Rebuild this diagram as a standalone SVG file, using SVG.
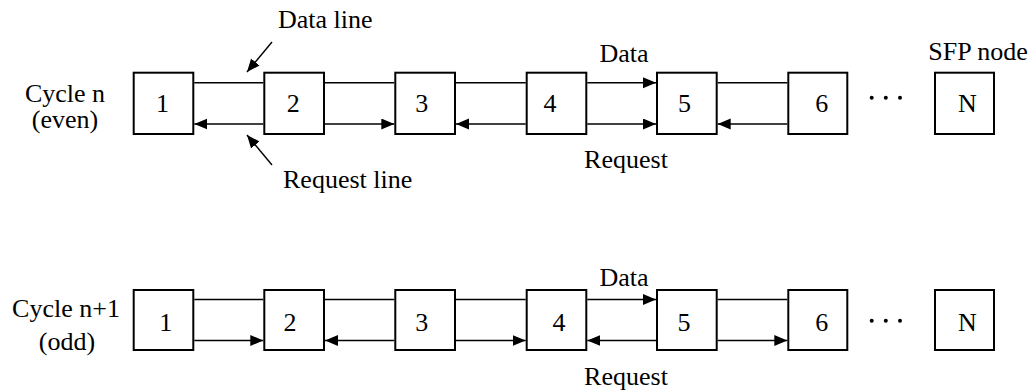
<svg xmlns="http://www.w3.org/2000/svg" width="1036" height="392" viewBox="0 0 1036 392">
<style>
  text { font-family: "Liberation Serif", "Times New Roman", serif; font-size: 26px; fill: #000; }
  .mid { text-anchor: middle; }
  .box { fill: #fff; stroke: #000; stroke-width: 2; }
  .ln { stroke: #000; stroke-width: 1.4; fill: none; }
  .ar { stroke: #000; stroke-width: 1.4; fill: none; marker-end: url(#ah); }
</style>
<defs>
  <marker id="ah" markerUnits="userSpaceOnUse" markerWidth="14" markerHeight="12" refX="13" refY="5.5" orient="auto">
    <path d="M0,0 L13,5.5 L0,11 z" fill="#000"/>
  </marker>
</defs>
<rect width="1036" height="392" fill="#fff"/>

<g id="labels">
  <text class="mid"><tspan x="65" y="101.5">Cycle n</tspan><tspan x="65" dy="26">(even)</tspan></text>
  <text class="mid"><tspan x="66" y="316.5">Cycle n+1</tspan><tspan x="67" dy="33">(odd)</tspan></text>
  <text x="278" y="28">Data line</text>
  <text x="283" y="188">Request line</text>
  <text class="mid" x="624" y="62">Data</text>
  <text class="mid" x="626" y="168">Request</text>
  <text class="mid" x="624" y="286">Data</text>
  <text class="mid" x="626" y="385">Request</text>
  <text class="mid" x="978" y="60">SFP node</text>
</g>

<g id="connectors">
  <line class="ar" x1="272" y1="42" x2="247" y2="72"/>
  <line class="ar" x1="272" y1="165" x2="247" y2="135"/>
  <!-- top row -->
  <line class="ln" x1="194.3" y1="82.7" x2="263.3" y2="82.7"/>
  <line class="ar" x1="263.3" y1="124" x2="194.3" y2="124"/>
  <line class="ln" x1="325" y1="82.7" x2="394.3" y2="82.7"/>
  <line class="ar" x1="325" y1="124" x2="394.3" y2="124"/>
  <line class="ln" x1="456" y1="82.7" x2="525.7" y2="82.7"/>
  <line class="ar" x1="525.7" y1="124" x2="456" y2="124"/>
  <line class="ar" x1="587.3" y1="82.7" x2="656" y2="82.7"/>
  <line class="ar" x1="587.3" y1="124" x2="656" y2="124"/>
  <line class="ln" x1="717.7" y1="82.7" x2="787.3" y2="82.7"/>
  <line class="ar" x1="787.3" y1="124" x2="717.7" y2="124"/>
  <!-- bottom row -->
  <line class="ln" x1="194.3" y1="299.5" x2="263.3" y2="299.5"/>
  <line class="ar" x1="194.3" y1="340.5" x2="263.3" y2="340.5"/>
  <line class="ln" x1="325" y1="299.5" x2="394.3" y2="299.5"/>
  <line class="ar" x1="394.3" y1="340.5" x2="325" y2="340.5"/>
  <line class="ln" x1="456" y1="299.5" x2="525.7" y2="299.5"/>
  <line class="ar" x1="456" y1="340.5" x2="525.7" y2="340.5"/>
  <line class="ar" x1="587.3" y1="299.5" x2="656" y2="299.5"/>
  <line class="ar" x1="656" y1="340.5" x2="587.3" y2="340.5"/>
  <line class="ln" x1="717.7" y1="299.5" x2="787.3" y2="299.5"/>
  <line class="ar" x1="717.7" y1="340.5" x2="787.3" y2="340.5"/>
</g>

<g id="ellipsis-top">
  <circle cx="871.7" cy="97.7" r="2"/>
  <circle cx="885.8" cy="97.7" r="2"/>
  <circle cx="900" cy="97.7" r="2"/>
</g>
<g id="ellipsis-bottom">
  <circle cx="871.7" cy="320.7" r="2"/>
  <circle cx="885.8" cy="320.7" r="2"/>
  <circle cx="900" cy="320.7" r="2"/>
</g>

<!-- top row nodes -->
<g id="t1"><rect class="box" x="133.7" y="72.7" width="59.6" height="61.3"/><text class="mid" x="162.5" y="112">1</text></g>
<g id="t2"><rect class="box" x="264.3" y="72.7" width="59.7" height="61.3"/><text class="mid" x="293.3" y="112">2</text></g>
<g id="t3"><rect class="box" x="395.3" y="72.7" width="59.7" height="61.3"/><text class="mid" x="421.7" y="112">3</text></g>
<g id="t4"><rect class="box" x="526.7" y="72.7" width="59.6" height="61.3"/><text class="mid" x="550" y="112">4</text></g>
<g id="t5"><rect class="box" x="657" y="72.7" width="59.7" height="61.3"/><text class="mid" x="684.5" y="112">5</text></g>
<g id="t6"><rect class="box" x="788.3" y="72.7" width="59" height="61.3"/><text class="mid" x="821.7" y="112">6</text></g>
<g id="tN"><rect class="box" x="935" y="72.7" width="59" height="61.3"/><text class="mid" x="967.5" y="112">N</text></g>

<!-- bottom row nodes -->
<g id="b1"><rect class="box" x="133.7" y="290" width="59.6" height="60"/><text class="mid" x="165.8" y="331">1</text></g>
<g id="b2"><rect class="box" x="264.3" y="290" width="59.7" height="60"/><text class="mid" x="290" y="331">2</text></g>
<g id="b3"><rect class="box" x="395.3" y="290" width="59.7" height="60"/><text class="mid" x="421.7" y="331">3</text></g>
<g id="b4"><rect class="box" x="526.7" y="290" width="59.6" height="60"/><text class="mid" x="559" y="331">4</text></g>
<g id="b5"><rect class="box" x="657" y="290" width="59.7" height="60"/><text class="mid" x="684" y="331">5</text></g>
<g id="b6"><rect class="box" x="788.3" y="290" width="59" height="60"/><text class="mid" x="821.7" y="331">6</text></g>
<g id="bN"><rect class="box" x="935" y="290" width="59" height="60"/><text class="mid" x="967.5" y="331">N</text></g>
</svg>
